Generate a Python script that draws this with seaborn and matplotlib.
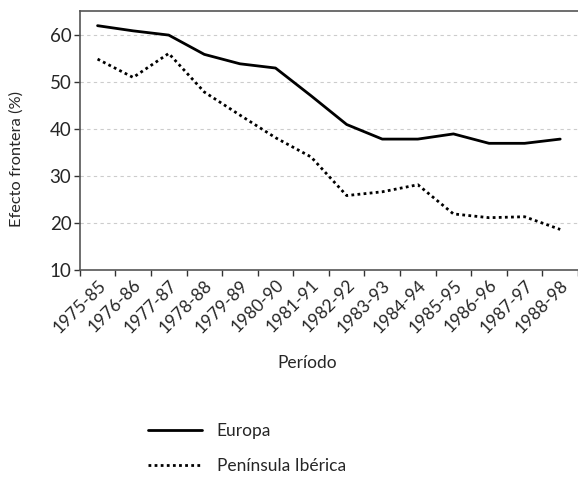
import matplotlib
matplotlib.use("Agg")
import matplotlib.pyplot as plt
import pandas as pd
import seaborn as sns
from matplotlib.lines import Line2D

periodos = ["1975-85", "1976-86", "1977-87", "1978-88", "1979-89", "1980-90", "1981-91",
            "1982-92", "1983-93", "1984-94", "1985-95", "1986-96", "1987-97", "1988-98"]
europa = [61.9, 60.8, 59.9, 55.8, 53.8, 52.9, 47.0, 40.9, 37.8, 37.8, 38.9, 36.9, 36.9, 37.8]
peninsula = [54.8, 50.9, 56.0, 47.8, 42.9, 38.1, 34.0, 25.8, 26.6, 28.1, 21.9, 21.1, 21.3, 18.6]
series_names = ["Europa", "Península Ibérica"]

df = pd.DataFrame({
    "Periodo": periodos * 2,
    "valor": europa + peninsula,
    "serie": [series_names[0]] * len(periodos) + [series_names[1]] * len(periodos),
})

sns.set_style("white")
plt.rcParams["font.family"] = ["Lato", "DejaVu Sans"]

fig = plt.figure(figsize=(5.78, 4.82), dpi=100)
ax = fig.add_axes([0.138, 0.44, 0.862, 0.537])

estilos = {"Europa": "-", "Península Ibérica": (0, (1, 1.2))}
for nombre in series_names:
    sub = df[df["serie"] == nombre]
    sns.lineplot(data=sub, x="Periodo", y="valor", ax=ax, color="black",
                 linewidth=2, linestyle=estilos[nombre], legend=False, sort=False)

ax.set_ylim(10, 65)
ax.set_yticks([10, 20, 30, 40, 50, 60])
ax.set_xlim(-0.5, len(periodos) - 0.5)
ax.set_xticks(range(len(periodos)))
ax.set_xticklabels(periodos, rotation=45, ha="right", rotation_mode="anchor", fontsize=12.5)
ax.set_xticks([i - 0.5 for i in range(len(periodos) + 1)], minor=True)
ax.tick_params(axis="x", which="major", length=0, pad=5)
ax.tick_params(axis="x", which="minor", length=4, width=1, color="#333333", direction="out", bottom=True)
ax.tick_params(axis="y", length=4, width=1, color="#333333", direction="out", left=True, labelsize=13.5, pad=2)

for y in [20, 30, 40, 50, 60]:
    ax.axhline(y, color="#cccccc", linestyle=(0, (3, 3)), linewidth=0.8, zorder=0)

for s in ["left", "bottom", "top"]:
    ax.spines[s].set_color("#555555")
    ax.spines[s].set_linewidth(1.2)
ax.spines["right"].set_visible(False)

ax.set_xlabel("Período", fontsize=12.5)
ax.xaxis.set_label_coords(0.456, -0.33)
ax.set_ylabel("Efecto frontera (%)", fontsize=11.8)
ax.yaxis.set_label_coords(-0.112, 0.43)

handles = [Line2D([], [], color="black", linewidth=2, linestyle=estilos[n]) for n in series_names]
fig.legend(handles, series_names, loc="upper left", bbox_to_anchor=(0.256, 0.122),
           frameon=False, fontsize=12.5, handlelength=3.1, labelspacing=1.1,
           handletextpad=0.86, borderpad=0, borderaxespad=0)

fig.savefig("out.png", dpi=100)
